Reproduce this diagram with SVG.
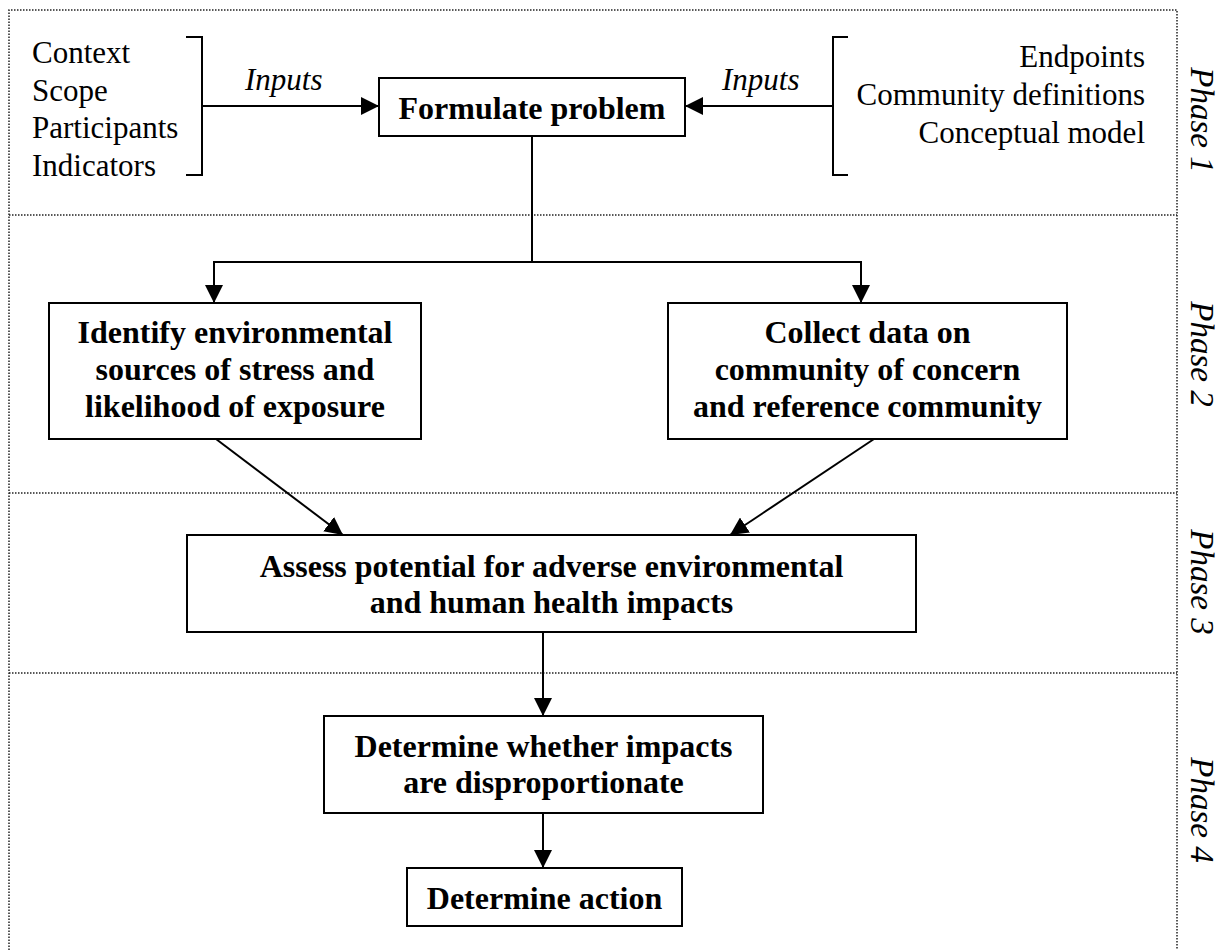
<svg xmlns="http://www.w3.org/2000/svg" width="1225" height="950" viewBox="0 0 1225 950">
<defs>
<style>
.frame{fill:none;stroke:#222;stroke-width:1.5;stroke-dasharray:1.5 1.5}
.box{fill:#fff;stroke:#000;stroke-width:2}
.ln{fill:none;stroke:#000;stroke-width:2}
.arr{fill:none;stroke:#000;stroke-width:2;marker-end:url(#ah)}
.b{font-family:"Liberation Serif","Times New Roman",serif;font-weight:bold;font-size:32px;fill:#000;text-anchor:middle}
.r{font-family:"Liberation Serif","Times New Roman",serif;font-size:31px;fill:#000}
.i{font-family:"Liberation Serif","Times New Roman",serif;font-style:italic;font-size:31px;fill:#000}
.ph{font-family:"Liberation Serif","Times New Roman",serif;font-style:italic;font-size:33px;fill:#000;text-anchor:middle}
</style>
<marker id="ah" viewBox="0 0 18 18" refX="18" refY="9" markerWidth="18" markerHeight="18" markerUnits="userSpaceOnUse" orient="auto">
<path d="M0,0 L18,9 L0,18 Z" fill="#000"/>
</marker>
</defs>
<g id="frame">
<path class="frame" d="M9,950 V10 H1177 V950"/>
<path class="frame" d="M9,215 H1177 M9,493 H1177 M9,673 H1177"/>
</g>
<g id="phases">
<text class="ph" transform="translate(1191,120) rotate(90)">Phase 1</text>
<text class="ph" transform="translate(1191,354) rotate(90)">Phase 2</text>
<text class="ph" transform="translate(1191,582) rotate(90)">Phase 3</text>
<text class="ph" transform="translate(1191,810) rotate(90)">Phase 4</text>
</g>
<g id="inputs-left">
<text class="r" x="32" y="63">Context</text>
<text class="r" x="32" y="100.5">Scope</text>
<text class="r" x="32" y="138">Participants</text>
<text class="r" x="32" y="175.5">Indicators</text>
<path class="ln" d="M186,37 H202 V175 H186"/>
</g>
<g id="inputs-right">
<text class="r" x="1145" y="67" text-anchor="end">Endpoints</text>
<text class="r" x="1145" y="105" text-anchor="end">Community definitions</text>
<text class="r" x="1145" y="143" text-anchor="end">Conceptual model</text>
<path class="ln" d="M848,37 H833 V175 H848"/>
</g>
<g id="connectors">
<path class="arr" d="M202,106 H379"/>
<text class="i" x="245" y="90">Inputs</text>
<path class="arr" d="M833,106 H685"/>
<text class="i" x="722" y="90">Inputs</text>
<path class="ln" d="M532,136 V262 M214,262 H861"/>
<path class="arr" d="M214,261 V303"/>
<path class="arr" d="M861,261 V303"/>
<path class="arr" d="M216,439 L343,535"/>
<path class="arr" d="M874,439 L730,535"/>
<path class="arr" d="M543,632 V716"/>
<path class="arr" d="M543,813 V868"/>
</g>
<g id="formulate">
<rect class="box" x="379" y="78" width="306" height="58"/>
<text class="b" x="532" y="119">Formulate problem</text>
</g>
<g id="identify">
<rect class="box" x="49" y="303" width="372" height="136"/>
<text class="b" x="235" y="343">Identify environmental</text>
<text class="b" x="235" y="380">sources of stress and</text>
<text class="b" x="235" y="417">likelihood of exposure</text>
</g>
<g id="collect">
<rect class="box" x="668" y="303" width="399" height="136"/>
<text class="b" x="867.5" y="343">Collect data on</text>
<text class="b" x="867.5" y="380">community of concern</text>
<text class="b" x="867.5" y="417">and reference community</text>
</g>
<g id="assess">
<rect class="box" x="187" y="535" width="729" height="97"/>
<text class="b" x="551.5" y="577">Assess potential for adverse environmental</text>
<text class="b" x="551.5" y="613">and human health impacts</text>
</g>
<g id="disproportionate">
<rect class="box" x="324" y="716" width="439" height="97"/>
<text class="b" x="543.5" y="757">Determine whether impacts</text>
<text class="b" x="543.5" y="793">are disproportionate</text>
</g>
<g id="action">
<rect class="box" x="407" y="868" width="275" height="58"/>
<text class="b" x="544.5" y="909">Determine action</text>
</g>
</svg>
